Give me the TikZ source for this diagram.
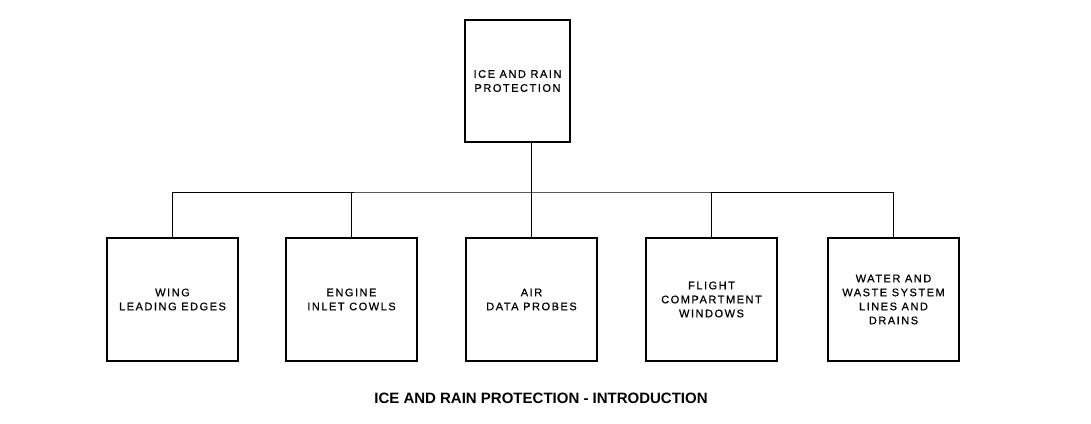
\documentclass[tikz,border=0pt]{standalone}
\usepackage{fontspec}
\setmainfont{Liberation Sans}
\newfontfamily\boxfont[LetterSpace=14,FakeBold=0.6]{Liberation Sans}
\begin{document}
\begin{tikzpicture}[x=1pt,y=-1pt,
  box/.style={draw,line width=1.2pt,minimum width=131pt,minimum height=123pt,align=center,inner sep=0pt,font=\boxfont\fontsize{11}{14}\selectfont},
  ln/.style={line width=0.6pt}]
\useasboundingbox (0,0) rectangle (1091,423);
\node[box,minimum width=105pt,minimum height=122pt] (top) at (517.5,81) {ICE AND RAIN\\PROTECTION};
\node[box] (b1) at (172.5,299.5) {WING\\LEADING EDGES};
\node[box] (b2) at (351.5,299.5) {ENGINE\\INLET COWLS};
\node[box] (b3) at (531.5,299.5) {AIR\\DATA PROBES};
\node[box] (b4) at (711.5,299.5) {FLIGHT\\COMPARTMENT\\WINDOWS};
\node[box] (b5) at (893.5,299.5) {WATER AND\\WASTE SYSTEM\\LINES AND\\DRAINS};
\coordinate (j) at (531.5,192);
\draw[ln] (top.south -| j) -- (j);
\draw[ln] (b1.north) |- (j) -| (b5.north);
\foreach \b in {b2,b3,b4} \draw[ln] (\b.north) -- (\b.north |- j);
\node[font=\bfseries\fontsize{15}{17}\selectfont] (t) at (541,398) {ICE AND RAIN PROTECTION - INTRODUCTION};
\end{tikzpicture}
\end{document}
